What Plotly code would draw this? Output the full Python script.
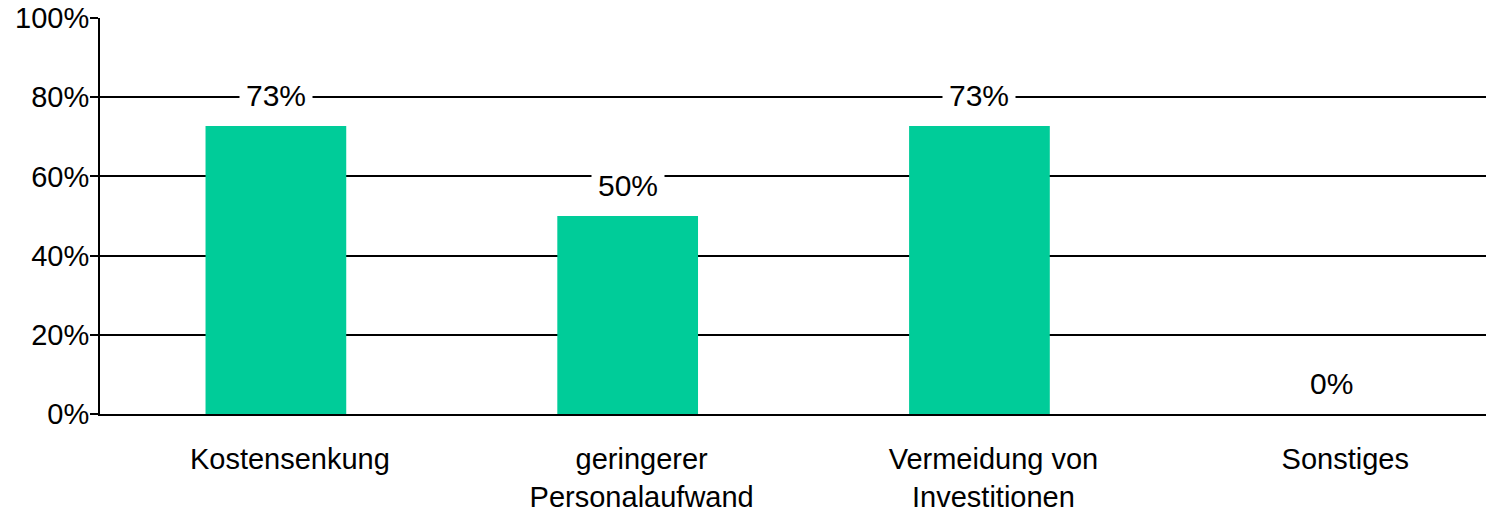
import plotly.graph_objects as go

# ───────────────────────── DATA ─────────────────────────

categories = ["Kostensenkung", "geringerer<br>Personalaufwand",
              "Vermeidung von<br>Investitionen", "Sonstiges"]
values = [72.7, 50.0, 72.7, 0.0]
value_labels = ["73%", "50%", "73%", "0%"]
y_ticks = [0, 20, 40, 60, 80, 100]
y_tick_labels = ["0%", "20%", "40%", "60%", "80%", "100%"]

FONT = "Liberation Sans, Arial, sans-serif"
BAR_COLOR = "#00CC99"

# ───────────────────────── CHART ─────────────────────────

fig = go.Figure()

fig.add_trace(go.Bar(
    x=list(range(len(categories))),
    y=values,
    width=0.4,
    marker=dict(color=BAR_COLOR, line=dict(width=0)),
    hoverinfo="skip",
    showlegend=False
))

for i, (v, lab) in enumerate(zip(values, value_labels)):
    fig.add_annotation(
        x=i, y=v,
        text=lab,
        showarrow=False,
        yanchor="bottom",
        yshift=7,
        bgcolor="white",
        borderpad=6,
        font=dict(family=FONT, size=30, color="black")
    )

fig.update_layout(
    width=1486,
    height=513,
    paper_bgcolor="white",
    plot_bgcolor="white",
    margin=dict(l=100, r=0, t=18, b=95),
    font=dict(family=FONT, size=29, color="black"),
    bargap=0.6
)

fig.update_xaxes(
    range=[-0.5, 3.44],
    tickmode="array",
    tickvals=list(range(len(categories))),
    ticktext=categories,
    ticks="",
    ticklabelshift=14,
    ticklabelstandoff=18,
    showgrid=False,
    showline=True,
    linecolor="black",
    linewidth=2,
    zeroline=False,
    tickfont=dict(family=FONT, size=29, color="black")
)

fig.update_yaxes(
    range=[0, 100],
    tickmode="array",
    tickvals=y_ticks,
    ticktext=y_tick_labels,
    ticks="outside",
    ticklen=8,
    tickwidth=2,
    tickcolor="black",
    ticklabelstandoff=-5,
    showgrid=True,
    gridcolor="black",
    gridwidth=2,
    showline=True,
    linecolor="black",
    linewidth=2,
    zeroline=False,
    tickfont=dict(family=FONT, size=29, color="black")
)

# drop the page's default body margin so the figure sits at the window's corner
fig.write_html("out.html", config={"displayModeBar": False},
               post_script="document.body.style.margin='0';")
